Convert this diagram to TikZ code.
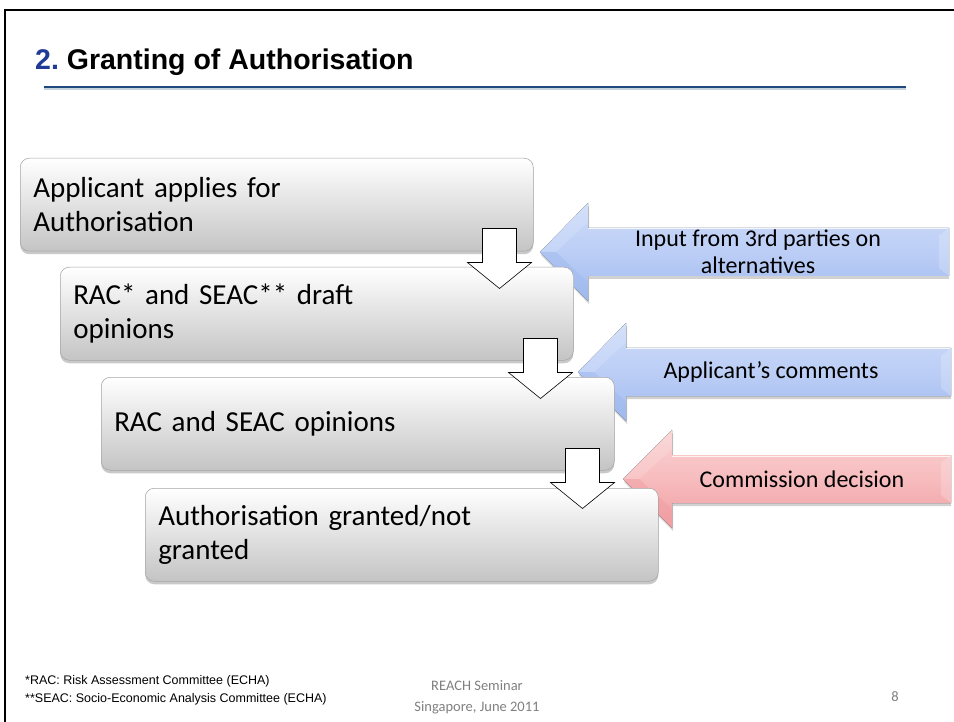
\documentclass[tikz,border=0pt]{standalone}
\usepackage{fontspec}
\setmainfont{Carlito}
\newfontfamily\arialf{Liberation Sans}
\usetikzlibrary{shadows,calc}
\frenchspacing
\definecolor{titleblue}{RGB}{31,59,150}
\definecolor{rulecol}{RGB}{31,73,125}
\definecolor{boxbot}{RGB}{196,196,196}
\definecolor{boxedge}{RGB}{165,165,165}
\definecolor{bluetop}{RGB}{204,219,249}
\definecolor{bluemid}{RGB}{188,206,246}
\definecolor{bluebot}{RGB}{160,186,238}
\definecolor{redtop}{RGB}{250,210,210}
\definecolor{redmid}{RGB}{247,188,190}
\definecolor{redbot}{RGB}{240,158,162}
\definecolor{footgray}{RGB}{128,128,128}
\newcommand\lblkarrow[5]{%
  \fill[black, opacity=0.18]
    (#1+1,#2+3) -- (#3+1,#2-46) -- (#3+1,#2-21) -- (#4,#2-21) -- (#4,#2+27) -- (#3+1,#2+27) -- (#3+1,#2+52) -- cycle;
  \fill[top color=#5top, bottom color=#5bot, middle color=#5mid]
    (#1,#2) -- (#3,#2-49) -- (#3,#2-24) -- (#4,#2-24) -- (#4,#2+24) -- (#3,#2+24) -- (#3,#2+49) -- cycle;
  \fill[white, opacity=0.15] (#1,#2) -- (#3,#2-49) -- (#3,#2-30) -- (#1+16,#2) -- cycle;
  \fill[#5bot, opacity=0.5] (#1,#2) -- (#3,#2+49) -- (#3,#2+30) -- (#1+16,#2) -- cycle;
  \draw[white, line width=1pt, opacity=0.8] (#3,#2-23) -- (#4-1,#2-23);
  \fill[white, opacity=0.2] (#4-10,#2-16) -- (#4,#2-24) -- (#4,#2+24) -- (#4-10,#2+16) -- cycle;
}
\begin{document}
\begin{tikzpicture}[x=1pt,y=-1pt,
  stepbox/.style={rounded corners=9pt, draw=boxedge, line width=0.5pt,
    top color=white, bottom color=boxbot,
    drop shadow={shadow xshift=0pt, shadow yshift=-3pt, opacity=0.35, fill=black!60},
    minimum width=513pt, minimum height=93pt, text width=487pt,
    inner xsep=13pt, inner ysep=0pt, align=left, anchor=north west,
    font=\fontsize{29}{34}\selectfont},
  arrtext/.style={align=center, font=\fontsize{24}{27}\selectfont, inner sep=0pt},
  downblk/.pic={\draw[line width=0.6pt, fill=white]
    (-17,0) -- (-17,34) -- (-32,34) -- (0,60) -- (32,34) -- (17,34) -- (17,0) -- cycle;},
  foot/.style={font=\fontsize{14.5}{17}\selectfont, text=footgray, inner sep=0pt},
  note/.style={font=\arialf\fontsize{12.5}{15}\selectfont, anchor=base west, inner sep=0pt}
]
\useasboundingbox (0,0) rectangle (954,722);
\fill[white] (0,0) rectangle (954,722);
% frame
\draw[line width=2pt] (5,722) -- (5,10) -- (954,10);
% title
\node[anchor=base west, inner sep=0pt, font=\arialf\bfseries\fontsize{28.5}{32}\selectfont] (title) at (35,70)
  {\textcolor{titleblue}{2.} Granting of Authorisation};
\draw[rulecol!25, line width=1.5pt] (44,89) -- (906,89);
\draw[rulecol, line width=1.6pt] (44,87) -- (906,87);
% left arrows
\lblkarrow{540}{252}{588}{949}{blue}
\lblkarrow{578}{372}{626}{951}{blue}
\lblkarrow{623}{479}{672}{951}{red}
\node[arrtext] (ta) at (758,252) {Input from 3rd parties on\\alternatives};
\node[arrtext] (tb) at (771,372) {Applicant’s comments};
\node[arrtext] (tc) at (802,479) {Commission decision};
% boxes
\node[stepbox] (b1) at (20,158) {Applicant applies for\\Authorisation};
\node[stepbox] (b2) at (60,267) {RAC* and SEAC** draft\\opinions};
\node[stepbox] (b3) at (101,377) {RAC and SEAC opinions};
\node[stepbox] (b4) at (145,488) {Authorisation granted/not\\granted};
% down arrows
\pic at ($(b1.south east)+(-34,-23)$) {downblk};
\pic at ($(b2.south east)+(-33,-22)$) {downblk};
\pic at ($(b3.south east)+(-32,-22)$) {downblk};
% notes
\node[note] (n1) at (25,684) {*RAC: Risk Assessment Committee (ECHA)};
\node[note] (n2) at (25,702) {**SEAC: Socio-Economic Analysis Committee (ECHA)};
% footer
\node[foot] (f1) at (477,686) {REACH Seminar};
\node[foot] (f2) at (477,708) {Singapore, June 2011};
\node[foot] (pg) at (895,697) {8};
\end{tikzpicture}
\end{document}
